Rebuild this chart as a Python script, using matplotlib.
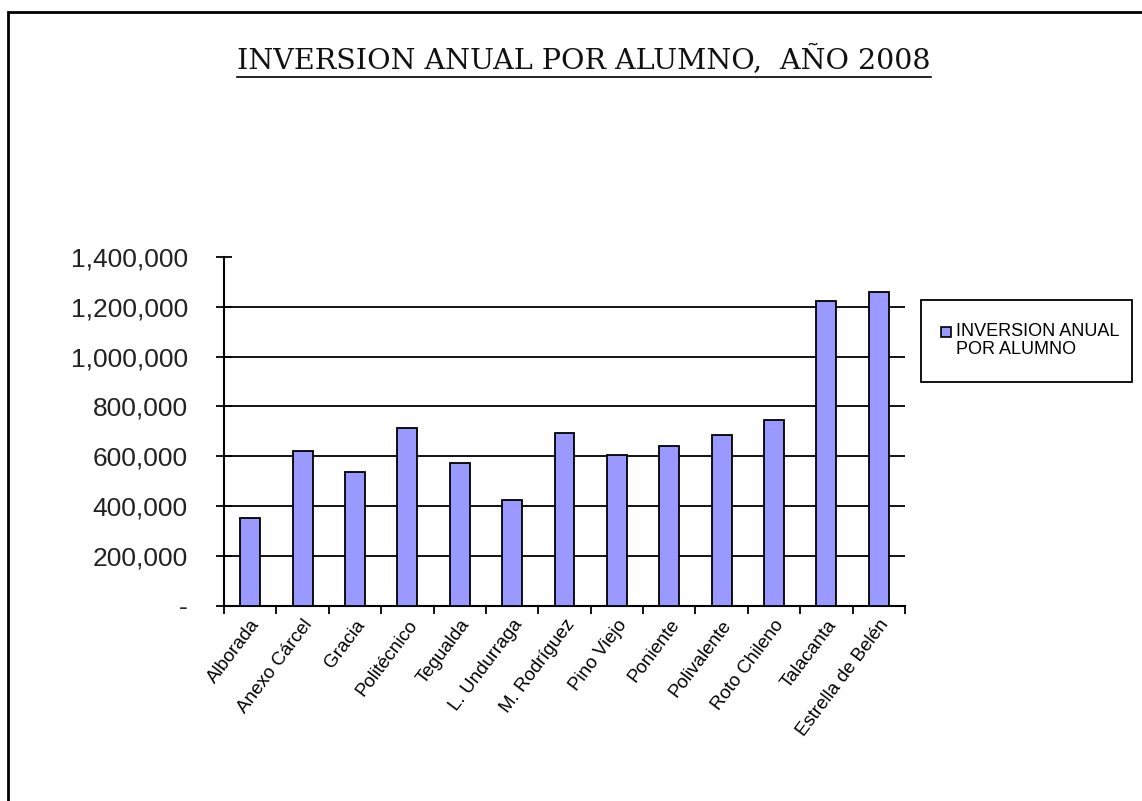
import matplotlib
matplotlib.use("Agg")
import matplotlib.pyplot as plt
from matplotlib.patches import Rectangle
from matplotlib.lines import Line2D
from matplotlib.ticker import FuncFormatter, FixedLocator

# Data
schools = ["Alborada", "Anexo Cárcel", "Gracia", "Politécnico", "Tegualda",
           "L. Undurraga", "M. Rodríguez", "Pino Viejo", "Poniente",
           "Polivalente", "Roto Chileno", "Talacanta", "Estrella de Belén"]
investment = [351000, 619000, 535000, 712000, 571000, 422000, 691000,
              606000, 642000, 685000, 747000, 1223000, 1258000]
y_ticks = [0, 200000, 400000, 600000, 800000, 1000000, 1200000, 1400000]
series_name = "INVERSION ANUAL\nPOR ALUMNO"
title = "INVERSION ANUAL POR ALUMNO,  AÑO 2008"

W, H = 1142, 801
fig = plt.figure(figsize=(W / 100, H / 100), dpi=100)
sans = ["Liberation Sans", "DejaVu Sans"]

# outer frame (only top and left edges visible in the picture)
fig.patches.append(Rectangle((8 / W, -0.1), 1.2, 1 - 12 / H + 0.1,
                             transform=fig.transFigure, fill=False,
                             edgecolor="black", linewidth=2))

ax = fig.add_axes([224 / W, 1 - 605.5 / H, (905 - 224) / W, (605.5 - 257) / H])

x = list(range(len(schools)))
ax.bar(x, investment, width=0.38, color="#9999FF", edgecolor="black",
       linewidth=1.3, zorder=3)

ax.set_xlim(-0.5, len(schools) - 0.5)
ax.set_ylim(0, 1400000)
ax.set_yticks(y_ticks)
ax.yaxis.set_major_formatter(FuncFormatter(lambda v, p: "-" if v == 0 else f"{int(v):,}"))
for t in y_ticks[1:-1]:
    ax.axhline(t, color="black", linewidth=1.3, zorder=1)

ax.xaxis.set_major_locator(FixedLocator([i - 0.5 for i in range(len(schools) + 1)]))
ax.set_xticklabels([])
ax.xaxis.set_minor_locator(FixedLocator(x))
ax.set_xticklabels(schools, minor=True, rotation=53, ha="right",
                   rotation_mode="anchor", fontsize=13.5, family=sans)
ax.tick_params(axis="x", which="major", direction="out", length=6, width=1.3)
ax.tick_params(axis="x", which="minor", length=0, pad=8)
ax.tick_params(axis="y", direction="inout", length=12, width=1.3, pad=20,
               labelsize=19, labelcolor="#222222")
for lab in ax.get_yticklabels():
    lab.set_family(sans)

for s in ["top", "right"]:
    ax.spines[s].set_visible(False)
ax.spines["left"].set_linewidth(1.5)
ax.spines["bottom"].set_linewidth(1.5)

# legend box
fig.patches.append(Rectangle((921 / W, 1 - 382 / H), (1132 - 921) / W, (382 - 300) / H,
                             transform=fig.transFigure, fill=False,
                             edgecolor="black", linewidth=1.3))
fig.patches.append(Rectangle((941 / W, 1 - 337 / H), 10 / W, 10 / H,
                             transform=fig.transFigure, facecolor="#9999FF",
                             edgecolor="black", linewidth=1.2))
fig.text(956 / W, 1 - 323 / H, series_name, fontsize=13, family=sans,
         va="top", ha="left", linespacing=1.05)

# underlined title
tt = fig.text(584 / W, 1 - 60 / H, title, fontsize=20.5, family="DejaVu Serif",
              ha="center", va="center", color="#111111")
fig.canvas.draw()
bb = tt.get_window_extent().transformed(fig.transFigure.inverted())
fig.lines.append(Line2D([bb.x0, bb.x1], [1 - 77 / H] * 2, transform=fig.transFigure,
                        color="black", linewidth=1.2))

fig.savefig("out.png", dpi=100, facecolor="white")
